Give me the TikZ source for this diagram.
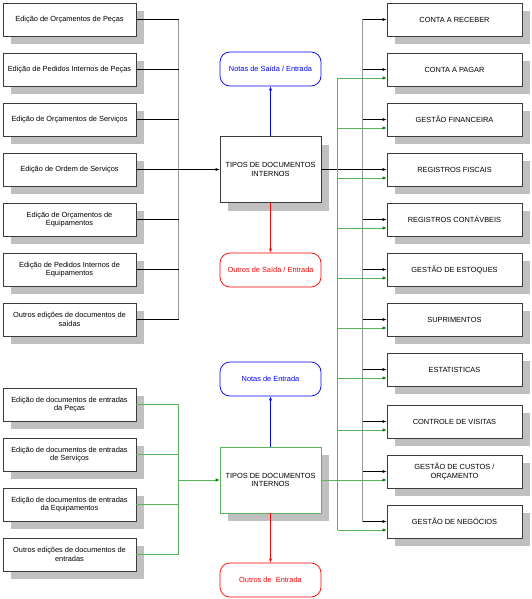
\documentclass[tikz,border=0pt]{standalone}
\usepackage{fontspec}
\setmainfont{Liberation Sans}
\usetikzlibrary{arrows.meta,shadows}
\definecolor{boxgray}{RGB}{60,60,60}
\definecolor{shadowgray}{RGB}{192,192,192}
\definecolor{busgray}{RGB}{150,150,150}
\definecolor{linegreen}{RGB}{90,180,90}
\definecolor{tipgreen}{RGB}{0,128,0}

\begin{document}
\begin{tikzpicture}[x=1pt,y=-1pt,font=\fontsize{7.4}{8.8}\selectfont,
    docbox/.style={draw=boxgray,line width=0.7pt,fill=white,align=center,inner sep=1pt,
      minimum width=133pt,minimum height=33pt,
      general shadow={fill=shadowgray,shadow xshift=8pt,shadow yshift=-8pt}},
    modbox/.style={docbox,minimum width=135pt},
    tipobox/.style={docbox,minimum width=101pt,minimum height=66pt},
    notabox/.style={line width=0.7pt,fill=white,rounded corners=10pt,align=center,
      minimum width=101pt,minimum height=34pt},
    wire/.style={black,line width=0.6pt},
    busline/.style={busgray,line width=1pt},
    gwire/.style={linegreen,line width=0.8pt},
    arr/.style={-{Latex[length=4pt,width=3pt]}},
    garr/.style={-{Latex[length=4pt,width=3.5pt,color=tipgreen]}}]
    \useasboundingbox (0,0) rectangle (532,599);

    % saidas
    \node[docbox] (l1) at (69.5,19.5) {Edição de Orçamentos de Peças};
    \node[docbox] (l2) at (69.5,69.5) {Edição de Pedidos Internos de Peças};
    \node[docbox] (l3) at (69.5,119.5) {Edição de Orçamentos de Serviços};
    \node[docbox] (l4) at (69.5,169.5) {Edição de Ordem de Serviços};
    \node[docbox] (l5) at (69.5,219.5) {Edição de Orçamentos de\\Equipamentos};
    \node[docbox] (l6) at (69.5,269.5) {Edição de Pedidos Internos de\\Equipamentos};
    \node[docbox] (l7) at (69.5,319.5) {Outros edições de documentos de\\saídas};

    % entradas
    \node[docbox] (e1) at (69.5,404.5) {Edição de documentos de entradas\\da Peças};
    \node[docbox] (e2) at (69.5,454.5) {Edição de documentos de entradas\\de Serviços};
    \node[docbox] (e3) at (69.5,504.5) {Edição de documentos de entradas\\da Equipamentos};
    \node[docbox] (e4) at (69.5,554.5) {Outros edições de documentos de\\entradas};

    % tipos
    \node[tipobox] (t1) at (270.5,169.5) {TIPOS DE DOCUMENTOS\\INTERNOS};
    \node[notabox,draw=blue,text=blue] (n1) at (270.5,69) {Notas de Saída / Entrada};
    \node[notabox,draw=red,text=red] (o1) at (270.5,270) {Outros de Saída / Entrada};
    \node[tipobox,draw=linegreen] (t2) at (270.5,480) {TIPOS DE DOCUMENTOS\\INTERNOS};
    \node[notabox,draw=blue,text=blue] (n2) at (270.5,379) {Notas de Entrada};
    \node[notabox,draw=red,text=red] (o2) at (270.5,580) {Outros de~ Entrada};

    % modulos
    \node[modbox] (r1) at (454.5,19.5) {CONTA A RECEBER};
    \node[modbox] (r2) at (454.5,69.5) {CONTA A PAGAR};
    \node[modbox] (r3) at (454.5,119.5) {GESTÃO FINANCEIRA};
    \node[modbox] (r4) at (454.5,169.5) {REGISTROS FISCAIS};
    \node[modbox] (r5) at (454.5,219.5) {REGISTROS CONTÁVBEIS};
    \node[modbox] (r6) at (454.5,269.5) {GESTÃO DE ESTOQUES};
    \node[modbox] (r7) at (454.5,319.5) {SUPRIMENTOS};
    \node[modbox] (r8) at (454.5,369.5) {ESTATISTICAS};
    \node[modbox] (r9) at (454.5,421.5) {CONTROLE DE VISITAS};
    \node[modbox] (r10) at (454.5,471.5) {GESTÃO DE CUSTOS /\\ORÇAMENTO};
    \node[modbox] (r11) at (454.5,521.5) {GESTÃO DE NEGÓCIOS};

    \coordinate (busL) at (178.5,0);
    \coordinate (busK) at (362.5,0);
    \coordinate (busG) at (337.5,0);
    \coordinate (g2) at ([yshift=-8.5pt]r2.west);
    \coordinate (g3) at ([yshift=-8.5pt]r3.west);
    \coordinate (g4) at ([yshift=-8.5pt]r4.west);
    \coordinate (g5) at ([yshift=-8.5pt]r5.west);
    \coordinate (g6) at ([yshift=-8.5pt]r6.west);
    \coordinate (g7) at ([yshift=-8.5pt]r7.west);
    \coordinate (g8) at ([yshift=-8.5pt]r8.west);
    \coordinate (g9) at ([yshift=-8.5pt]r9.west);
    \coordinate (g11) at ([yshift=-8.5pt]r11.west);

    % saidas -> tipos
    \draw[busline] (l1.east -| busL) -- (l7.east -| busL);
    \draw[wire] (l1.east) -- (l1.east -| busL);
    \draw[wire] (l2.east) -- (l2.east -| busL);
    \draw[wire] (l3.east) -- (l3.east -| busL);
    \draw[wire] (l5.east) -- (l5.east -| busL);
    \draw[wire] (l6.east) -- (l6.east -| busL);
    \draw[wire] (l7.east) -- (l7.east -| busL);
    \draw[wire,arr] (l4.east) -- (t1.west);

    % entradas -> tipos
    \draw[gwire] (e1.east -| busL) -- (e4.east -| busL);
    \draw[gwire] (e1.east) -- (e1.east -| busL);
    \draw[gwire] (e2.east) -- (e2.east -| busL);
    \draw[gwire] (e3.east) -- (e3.east -| busL);
    \draw[gwire] (e4.east) -- (e4.east -| busL);
    \draw[gwire,garr] (t2.west -| busL) -- (t2.west);

    \draw[blue,line width=0.7pt,arr] (t1.north) -- (n1.south);
    \draw[red,line width=0.7pt,arr] (t1.south) -- (o1.north);
    \draw[blue,line width=0.7pt,arr] (t2.north) -- (n2.south);
    \draw[red,line width=0.7pt,arr] (t2.south) -- (o2.north);

    % tipos -> modulos
    \draw[busline] (r1.west -| busK) -- (r11.west -| busK);
    \draw[wire,arr] (r1.west -| busK) -- (r1.west);
    \draw[wire,arr] (r2.west -| busK) -- (r2.west);
    \draw[wire,arr] (r3.west -| busK) -- (r3.west);
    \draw[wire,arr] (t1.east) -- (r4.west);
    \draw[wire,arr] (r5.west -| busK) -- (r5.west);
    \draw[wire,arr] (r6.west -| busK) -- (r6.west);
    \draw[wire,arr] (r7.west -| busK) -- (r7.west);
    \draw[wire,arr] (r8.west -| busK) -- (r8.west);
    \draw[wire,arr] (r9.west -| busK) -- (r9.west);
    \draw[wire,arr] (r10.west -| busK) -- (r10.west);
    \draw[wire,arr] (r11.west -| busK) -- (r11.west);

    \draw[gwire] (g2 -| busG) -- (g11 -| busG);
    \draw[gwire,garr] (g2 -| busG) -- (g2);
    \draw[gwire,garr] (g3 -| busG) -- (g3);
    \draw[gwire,garr] (g4 -| busG) -- (g4);
    \draw[gwire,garr] (g5 -| busG) -- (g5);
    \draw[gwire,garr] (g6 -| busG) -- (g6);
    \draw[gwire,garr] (g7 -| busG) -- (g7);
    \draw[gwire,garr] (g8 -| busG) -- (g8);
    \draw[gwire,garr] (g9 -| busG) -- (g9);
    \draw[gwire,garr] (t2.east) -- (t2.east -| r10.west);
    \draw[gwire,garr] (g11 -| busG) -- (g11);
\end{tikzpicture}
\end{document}
